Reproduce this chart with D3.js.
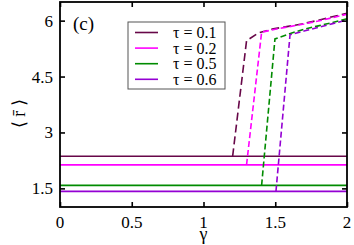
<!DOCTYPE html>
<html>
<head>
<meta charset="utf-8">
<script src="https://cdn.jsdelivr.net/npm/d3@7"></script>
</head>
<body style="margin:0">
<script>
// data
const taus = ['0.1', '0.2', '0.5', '0.6'];
const colors = ['#670748', '#ff00ff', '#008b00', '#9400d3'];
// flat (solid) branch levels
const lowLevels = [2.36, 2.13, 1.58, 1.42];
// dashed (upper) branch points [gamma, <r>]
const upper01 = [[1.203, 2.36], [1.30, 5.46], [1.382, 5.67], [1.487, 5.78], [1.58, 5.84], [1.684, 5.91], [1.789, 6.0], [1.905, 6.11], [2.0, 6.2]];
const upper02 = [[1.30, 2.13], [1.405, 5.69], [1.5, 5.77], [1.6, 5.84], [1.7, 5.91], [1.8, 5.99], [1.9, 6.08], [2.0, 6.17]];
const upper05 = [[1.405, 1.58], [1.498, 5.51], [1.6, 5.65], [1.7, 5.77], [1.8, 5.86], [1.9, 5.95], [2.0, 6.05]];
const upper06 = [[1.505, 1.42], [1.603, 5.62], [1.7, 5.72], [1.8, 5.82], [1.9, 5.92], [2.0, 6.02]];
const xTicks = [0, 0.5, 1, 1.5, 2];
const yTicks = [1.5, 3, 4.5, 6];

const width = 354, height = 245;
const margin = { top: 2, right: 7, bottom: 38, left: 60 };
const plotW = width - margin.left - margin.right;
const plotH = height - margin.top - margin.bottom;

const svg = d3.select('body').append('svg')
    .attr('width', width)
    .attr('height', height);

const x = d3.scaleLinear().domain([0, 2]).range([0, plotW]);
const y = d3.scaleLinear().domain([1, 6.5]).range([plotH, 0]);

const plot = svg.append('g')
    .attr('transform', `translate(${margin.left},${margin.top})`);

const series = taus.map((t, i) => ({
    tau: t,
    color: colors[i],
    low: lowLevels[i],
    up: [upper01, upper02, upper05, upper06][i]
}));

const line = d3.line().x(d => x(d[0])).y(d => y(d[1]));

// solid lower branches
plot.selectAll('.low').data(series).enter().append('path')
    .attr('class', 'low')
    .attr('d', d => line([[0, d.low], [2, d.low]]))
    .attr('fill', 'none')
    .attr('stroke', d => d.color)
    .attr('stroke-width', 1.6);

// dashed upper branches
plot.selectAll('.up').data(series).enter().append('path')
    .attr('class', 'up')
    .attr('d', d => line(d.up))
    .attr('fill', 'none')
    .attr('stroke', d => d.color)
    .attr('stroke-width', 1.6)
    .attr('stroke-dasharray', (d, i) => i == 0 ? '8,4' : '6,3');

// ticks pointing inward on all four sides
const tickLen = 5;
plot.append('g')
    .attr('transform', `translate(0,${plotH})`)
    .call(d3.axisBottom(x).tickValues(xTicks).tickSize(-tickLen).tickFormat(''));
plot.append('g')
    .call(d3.axisTop(x).tickValues(xTicks).tickSize(-tickLen).tickFormat(''));
plot.append('g')
    .call(d3.axisLeft(y).tickValues(yTicks).tickSize(-tickLen).tickFormat(''));
plot.append('g')
    .attr('transform', `translate(${plotW},0)`)
    .call(d3.axisRight(y).tickValues(yTicks).tickSize(-tickLen).tickFormat(''));
plot.selectAll('.tick text').remove();
plot.selectAll('.tick line').attr('stroke-width', 1.6);
plot.selectAll('.domain').remove();
plot.append('rect')
    .attr('width', plotW).attr('height', plotH)
    .attr('fill', 'none').attr('stroke', '#000').attr('stroke-width', 1.8);

// texts, one font per element, same way as a plain test line
const label = (sel, size) => sel.append('text')
    .style('font-family', () => '"Times New Roman"')
    .attr('font-size', size);

plot.selectAll('.xlab').data(xTicks).enter()
    .call(s => label(s, 17)
        .attr('x', d => x(d))
        .attr('y', plotH + 21)
        .attr('text-anchor', 'middle')
        .text(d => d));
plot.selectAll('.ylab').data(yTicks).enter()
    .call(s => label(s, 17)
        .attr('x', -7)
        .attr('y', d => y(d) + 6)
        .attr('text-anchor', 'end')
        .text(d => d));

label(svg, 18)
    .attr('x', margin.left + x(1))
    .attr('y', 240)
    .attr('text-anchor', 'middle')
    .text('γ');
label(svg, 18)
    .attr('transform', `translate(25,${margin.top + y(3.5)}) rotate(-90)`)
    .attr('text-anchor', 'middle')
    .text('\u27E8 r\u0304 \u27E9');

label(plot, 19)
    .attr('x', 13)
    .attr('y', 28)
    .text('(c)');

// legend
const legend = plot.append('g').attr('transform', 'translate(68,20)');
legend.append('rect')
    .attr('width', 97).attr('height', 67)
    .attr('fill', '#fff').attr('stroke', '#555').attr('stroke-width', 1);
const item = legend.selectAll('.legend-item').data(series).enter().append('g')
    .attr('class', 'legend-item')
    .attr('transform', (d, i) => `translate(0,${10.5 + i * 15.6})`);
item.append('line')
    .attr('x1', 7).attr('x2', 30)
    .attr('stroke', d => d.color).attr('stroke-width', 1.6);
label(item, 16)
    .attr('x', 45).attr('y', 5.5)
    .text(d => `τ = ${d.tau}`);
</script>
</body>
</html>
